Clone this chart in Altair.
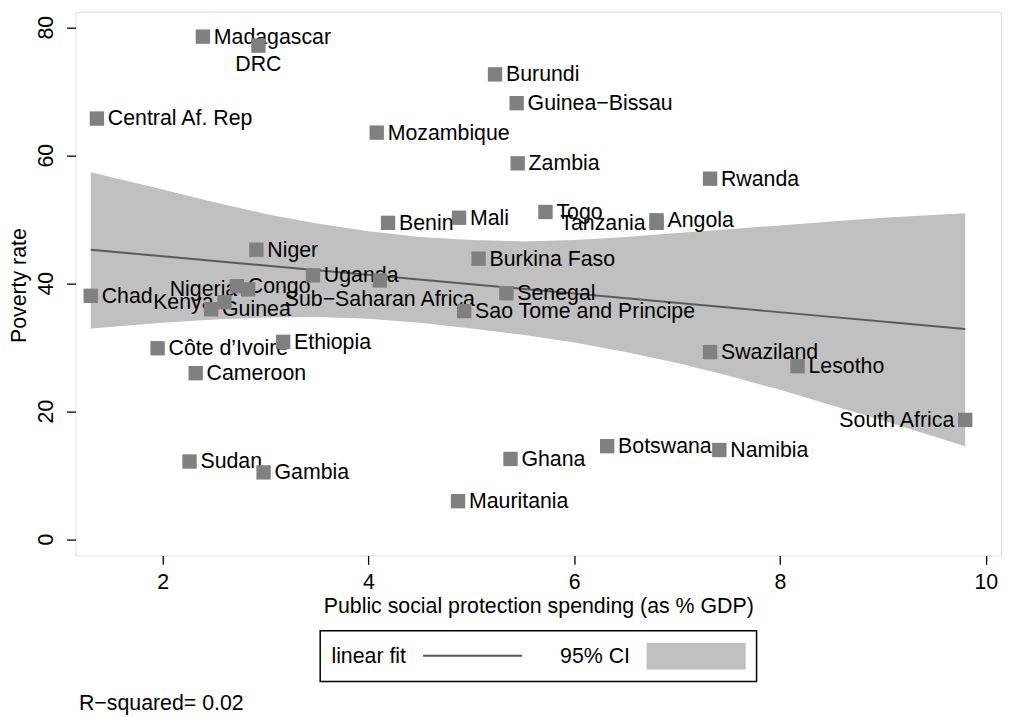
import altair as alt
import pandas as pd

# ---------------- data ----------------
countries = [
    "Madagascar", "DRC", "Burundi", "Guinea−Bissau", "Central Af. Rep",
    "Mozambique", "Zambia", "Rwanda", "Togo", "Tanzania", "Angola",
    "Benin", "Mali", "Niger", "Burkina Faso", "Uganda", "Sub−Saharan Africa",
    "Chad", "Congo", "Nigeria", "Kenya", "Guinea", "Côte d’Ivoire",
    "Ethiopia", "Cameroon", "Senegal", "Sao Tome and Principe", "Swaziland",
    "Lesotho", "South Africa", "Botswana", "Namibia", "Ghana", "Sudan",
    "Gambia", "Mauritania",
]
spending = [
    2.39, 2.93, 5.23, 5.44, 1.36,
    4.08, 5.45, 7.32, 5.72, 6.80, 6.80,
    4.19, 4.88, 2.91, 5.07, 3.46, 4.11,
    1.30, 2.72, 2.83, 2.60, 2.47, 1.95,
    3.17, 2.32, 5.34, 4.93, 7.32,
    8.17, 9.80, 6.32, 7.41, 5.38, 2.26,
    2.98, 4.87,
]
poverty = [
    78.6, 77.2, 72.7, 68.2, 65.8,
    63.6, 58.8, 56.4, 51.2, 49.5, 49.9,
    49.5, 50.3, 45.3, 43.9, 41.3, 40.5,
    38.1, 39.6, 39.1, 37.1, 36.0, 29.9,
    30.9, 26.0, 38.5, 35.7, 29.3,
    27.1, 18.7, 14.6, 14.0, 12.6, 12.2,
    10.5, 6.0,
]

left_labels = ["Tanzania", "Nigeria", "Kenya", "South Africa"]
below_labels = ["DRC", "Sub−Saharan Africa"]

fit_x = [1.30, 9.80]
fit_y = [45.3, 32.9]

ci_x = [1.30, 2.0, 2.5, 3.0, 3.5, 4.0, 4.5, 5.0, 5.5, 6.0, 6.5, 7.0, 7.5, 8.0, 8.5, 9.0, 9.80]
ci_hi = [57.4, 54.7, 52.7, 50.9, 49.4, 48.2, 47.3, 46.8, 46.6, 46.8, 47.3, 47.9, 48.5, 49.1, 49.7, 50.3, 51.0]
ci_lo = [33.0, 33.9, 34.4, 34.7, 34.8, 34.5, 33.9, 33.0, 32.0, 30.8, 29.3, 27.6, 25.6, 23.4, 21.0, 18.6, 14.6]

x_ticks = [2, 4, 6, 8, 10]
y_ticks = [0, 20, 40, 60, 80]

x_title = "Public social protection spending (as % GDP)"
y_title = "Poverty rate"
legend_fit = "linear fit"
legend_ci = "95% CI"
note = "R−squared= 0.02"

# ---------------- tables ----------------
pts = pd.DataFrame({"name": countries, "x": spending, "y": poverty})
pts["side"] = ["left" if n in left_labels else ("below" if n in below_labels else "right")
               for n in countries]
fit = pd.DataFrame({"x": fit_x, "y": fit_y})
band = pd.DataFrame({"x": ci_x, "lo": ci_lo, "hi": ci_hi})
ytk = pd.DataFrame({"v": y_ticks, "lab": [str(v) for v in y_ticks]})
one = pd.DataFrame({"k": [0]})

FONT = "Liberation Sans"
FS = 21.5
W, H = 933, 548

xscale = alt.Scale(domain=[1.1514, 10.148], nice=False, zero=False)
yscale = alt.Scale(domain=[-2.48, 82.48], nice=False, zero=False)

xaxis = alt.Axis(values=x_ticks, format="d", title=x_title, grid=False, domain=False,
                 tickSize=9, tickColor="black", tickWidth=1.3,
                 labelFont=FONT, labelFontSize=FS, labelColor="black",
                 labelPadding=7, labelFlush=False, labelOverlap=False,
                 titleFont=FONT, titleFontSize=FS, titleFontWeight="normal",
                 titleColor="black", titlePadding=3)
yaxis = alt.Axis(values=y_ticks, title=None, labels=False, grid=False, domain=False,
                 tickSize=9, tickColor="black", tickWidth=1.3)

band_layer = alt.Chart(band).mark_area(color="#c0c0c0", opacity=1).encode(
    x=alt.X("x:Q", scale=xscale, axis=xaxis),
    y=alt.Y("lo:Q", scale=yscale, axis=yaxis),
    y2="hi:Q",
)

fit_layer = alt.Chart(fit).mark_line(color="#5a5a5a", strokeWidth=2).encode(
    x=alt.X("x:Q", scale=xscale),
    y=alt.Y("y:Q", scale=yscale),
)

def label_layer(side, align, dx, dy):
    return alt.Chart(pts).transform_filter(
        alt.datum.side == side
    ).mark_text(font=FONT, fontSize=FS, color="black", align=align,
                baseline="middle", dx=dx, dy=dy).encode(
        x=alt.X("x:Q", scale=xscale),
        y=alt.Y("y:Q", scale=yscale),
        text="name:N",
    )

lab_r = label_layer("right", "left", 11, 1)
lab_l = label_layer("left", "right", -11, 1)
lab_b = label_layer("below", "center", 0, 20)

markers = alt.Chart(pts).mark_point(shape="square", filled=True, size=210,
                                    color="#808080", opacity=1).encode(
    x=alt.X("x:Q", scale=xscale),
    y=alt.Y("y:Q", scale=yscale),
)

# vertical y tick labels and y title (Stata style)
ytick_labels = alt.Chart(ytk).mark_text(font=FONT, fontSize=FS, color="black",
                                        angle=270, align="center",
                                        baseline="alphabetic").encode(
    x=alt.value(-23),
    y=alt.Y("v:Q", scale=yscale),
    text="lab:N",
)
ytitle = alt.Chart(one).mark_text(font=FONT, fontSize=FS, color="black", angle=270,
                                  align="center", baseline="middle", text=y_title).encode(
    x=alt.value(-56), y=alt.value(276))

# ---------------- legend and note (below the plot) ----------------
leg_box = alt.Chart(one).mark_rect(fill="white", stroke="black", strokeWidth=1.5).encode(
    x=alt.value(246.7), x2=alt.value(686.6), y=alt.value(624), y2=alt.value(675))
leg_t1 = alt.Chart(one).mark_text(font=FONT, fontSize=FS, color="black", align="left",
                                  baseline="middle", text=legend_fit).encode(
    x=alt.value(258), y=alt.value(650.5))
leg_line = alt.Chart(one).mark_rule(color="#5a5a5a", strokeWidth=2).encode(
    x=alt.value(350.4), x2=alt.value(450.2), y=alt.value(649))
leg_t2 = alt.Chart(one).mark_text(font=FONT, fontSize=FS, color="black", align="left",
                                  baseline="middle", text=legend_ci).encode(
    x=alt.value(488.5), y=alt.value(650.5))
leg_rect = alt.Chart(one).mark_rect(fill="#c0c0c0").encode(
    x=alt.value(575.8), x2=alt.value(675.7), y=alt.value(636), y2=alt.value(663))
note_t = alt.Chart(one).mark_text(font=FONT, fontSize=FS, color="black", align="left",
                                  baseline="middle", text=note).encode(
    x=alt.value(3.5), y=alt.value(698))

chart = alt.layer(
    band_layer, fit_layer, lab_r, lab_l, lab_b, markers,
    ytick_labels, ytitle,
    leg_box, leg_t1, leg_line, leg_t2, leg_rect, note_t,
).properties(
    width=W, height=H,
    autosize=alt.AutoSizeParams(type="none"),
    padding={"left": 68, "top": 1, "right": 1, "bottom": 159},
).configure_view(
    stroke="black", strokeWidth=1.5, fill="white",
).configure(background="white")

chart.save("out.html", embed_options={"renderer": "svg", "actions": False})
